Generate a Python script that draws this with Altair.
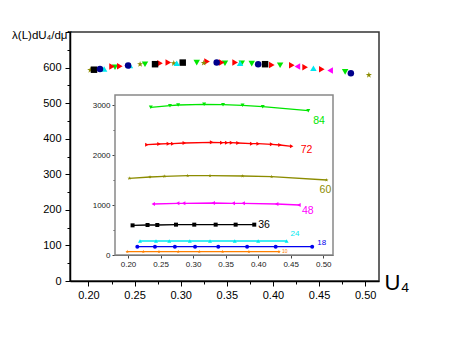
import altair as alt
import pandas as pd

# ---------------- data ----------------
X_DOMAIN = [0.18, 0.515]
MAIN_Y_DOMAIN = [0, 700]
INSET_Y_DOMAIN = [0, 3200]

SERIES = ["84", "72", "60", "48", "36", "24", "18", "10"]
INSET_COLORS = ["#00e600", "#ff0000", "#8c8c00", "#ff00ff", "#000000", "#00e8f0", "#0000f0", "#ff8000"]
MAIN_COLORS = ["#00e600", "#ff0000", "#8c8c00", "#ff00ff", "#000000", "#00e8f0", "#00008b", "#ff8000"]
STAR = "M0,-1L0.2245,-0.309L0.951,-0.309L0.363,0.118L0.588,0.809L0,0.382L-0.588,0.809L-0.363,0.118L-0.951,-0.309L-0.2245,-0.309Z"
SHAPES = ["triangle-down", "triangle-right", STAR, "triangle-left", "square", "triangle-up", "circle", STAR]

# main panel: lambda(L) dU4/dmu vs U4
M84_U = [0.2288, 0.2613, 0.3174, 0.348, 0.3662, 0.377, 0.4078, 0.4783]
M84_V = [601, 609.5, 614, 612.3, 612, 611, 606.7, 588]
M72_U = [0.2256, 0.234, 0.2776, 0.2866, 0.3286, 0.3445, 0.359, 0.3988, 0.4205, 0.4349, 0.453]
M72_V = [603, 604, 612, 614, 617, 614, 614, 607.5, 606.7, 601, 595.5]
M60_U = [0.202, 0.256, 0.2925, 0.325, 0.504]
M60_V = [593, 609.5, 612, 613, 579]
M48_U = [0.2418, 0.4265, 0.462]
M48_V = [605, 603, 591.6]
M36_U = [0.206, 0.2722, 0.3022, 0.3915]
M36_V = [594, 609.5, 614, 609.5]
M24_U = [0.217, 0.245, 0.2957, 0.3644, 0.4439]
M24_V = [596, 606, 612, 612, 598]
M18_U = [0.2125, 0.243, 0.339, 0.384, 0.4845]
M18_V = [596, 606, 614, 609.5, 584]

# inset: dU4/dmu vs U4
I84_U = [0.235, 0.2645, 0.277, 0.317, 0.346, 0.376, 0.407, 0.477]
I84_V = [2953, 2987, 3000, 3013, 3007, 2993, 2967, 2887]
I72_U = [0.229, 0.2476, 0.262, 0.2686, 0.2865, 0.3285, 0.344, 0.3516, 0.359, 0.369, 0.390, 0.400, 0.4207, 0.4335, 0.4515]
I72_V = [2207, 2220, 2227, 2227, 2240, 2253, 2247, 2247, 2247, 2240, 2227, 2227, 2213, 2200, 2173]
I60_U = [0.202, 0.2338, 0.2557, 0.2917, 0.326, 0.376, 0.4207, 0.5052]
I60_V = [1533, 1560, 1573, 1587, 1587, 1580, 1566, 1500]
I48_U = [0.2388, 0.2763, 0.2855, 0.331, 0.3617, 0.377, 0.4284, 0.4627]
I48_V = [1020, 1033, 1033, 1040, 1033, 1033, 1020, 1000]
I36_U = [0.207, 0.230, 0.245, 0.2737, 0.3018, 0.3347, 0.3654, 0.394]
I36_V = [593, 600, 600, 607, 607, 607, 607, 607]
I24_U = [0.2184, 0.243, 0.2634, 0.295, 0.326, 0.364, 0.400, 0.4437]
I24_V = [280, 280, 280, 280, 280, 280, 280, 280]
I18_U = [0.2143, 0.2414, 0.272, 0.303, 0.3387, 0.383, 0.4269, 0.483]
I18_V = [167, 167, 167, 167, 167, 167, 167, 167]
I10_U = [0.1989, 0.2235, 0.2476, 0.2772, 0.3095, 0.3454, 0.3858, 0.4319]
I10_V = [67, 67, 67, 67, 67, 67, 67, 67]

X_TICKS = [0.20, 0.225, 0.25, 0.275, 0.30, 0.325, 0.35, 0.375, 0.40, 0.425, 0.45, 0.475, 0.50]
MAIN_Y_TICKS = [0, 50, 100, 150, 200, 250, 300, 350, 400, 450, 500, 550, 600, 650, 700]
INSET_X_TICKS = [0.20, 0.25, 0.30, 0.35, 0.40, 0.45, 0.50]
INSET_Y_TICKS = [0, 500, 1000, 1500, 2000, 2500, 3000]

# label styling per inset series: (dx, dy, font size)
LABEL_STYLE = {"84": (5, 10, 10.5), "72": (9, 4, 10.5), "60": (-7, 10, 10.5), "48": (3, 6, 10.5),
               "36": (4, 0, 10.5), "24": (4, -7, 8), "18": (5, -4, 8), "10": (3, -1, 5)}

main_sets = {"84": (M84_U, M84_V), "72": (M72_U, M72_V), "60": (M60_U, M60_V), "48": (M48_U, M48_V),
             "36": (M36_U, M36_V), "24": (M24_U, M24_V), "18": (M18_U, M18_V)}
inset_sets = {"84": (I84_U, I84_V), "72": (I72_U, I72_V), "60": (I60_U, I60_V), "48": (I48_U, I48_V),
              "36": (I36_U, I36_V), "24": (I24_U, I24_V), "18": (I18_U, I18_V), "10": (I10_U, I10_V)}

main_df = pd.DataFrame([{"L": k, "U4": u, "v": v} for k, (us, vs) in main_sets.items() for u, v in zip(us, vs)])
inset_df = pd.DataFrame([{"L": k, "U4": u, "v": v} for k, (us, vs) in inset_sets.items() for u, v in zip(us, vs)])

FONT = "Liberation Sans"
W, H = 309, 249

# ---------------- main panel ----------------
main_x = alt.Scale(domain=X_DOMAIN, nice=False, zero=False)
main_y = alt.Scale(domain=MAIN_Y_DOMAIN, nice=False)
main_xaxis = alt.Axis(
    values=X_TICKS, labelExpr="round(datum.value*1000) % 50 == 0 ? format(datum.value, '.2f') : ''",
    tickSize={"condition": {"test": "round(datum.value*1000) % 50 == 0", "value": 5}, "value": 3},
    grid=False, domainColor="black", domainWidth=1.5, tickColor="black", labelFontSize=11,
    labelFont=FONT, labelColor="black", labelPadding=3, title="U₄", titleFont=FONT, titleFontSize=22,
    titleFontWeight="normal", titleX=W + 5, titleY=1, titleAlign="left", titleBaseline="middle",
    titleAnchor="start", titleAngle=0)
main_yaxis = alt.Axis(
    values=MAIN_Y_TICKS, labelExpr="datum.value % 100 == 0 && datum.value < 700 ? datum.value : ''",
    tickSize={"condition": {"test": "datum.value % 100 == 0", "value": 5}, "value": 3},
    grid=False, domainColor="black", domainWidth=1.5, tickColor="black", labelFontSize=11,
    labelFont=FONT, labelColor="black", labelPadding=4, title="λ(L)dU₄/dμ̃", titleFont=FONT,
    titleFontSize=11.5, titleFontWeight="normal", titleAngle=0, titleX=-3, titleY=3,
    titleAlign="right", titleBaseline="middle", titleAnchor="start", titleLimit=70)

main_pts = alt.Chart(main_df).mark_point(filled=True, size=42, opacity=1).encode(
    x=alt.X("U4:Q", scale=main_x, axis=main_xaxis),
    y=alt.Y("v:Q", scale=main_y, axis=main_yaxis),
    color=alt.Color("L:N", scale=alt.Scale(domain=SERIES, range=MAIN_COLORS), legend=None),
    shape=alt.Shape("L:N", scale=alt.Scale(domain=SERIES, range=SHAPES), legend=None),
)
main = main_pts

# ---------------- inset ----------------
inset_x = alt.Scale(domain=X_DOMAIN, range=[45, 263], nice=False, zero=False)
inset_y = alt.Scale(domain=INSET_Y_DOMAIN, range=[223, 63], nice=False)
inset_xaxis = alt.Axis(orient="bottom", offset=-26, values=INSET_X_TICKS, format=".2f", grid=False,
                       domainColor="#444", tickColor="#444", tickSize=3, labelFontSize=8, labelFont=FONT,
                       labelColor="#222", labelPadding=2, title=None)
inset_yaxis = alt.Axis(orient="left", offset=-45, values=INSET_Y_TICKS,
                       labelExpr="datum.value % 1000 == 0 ? datum.value : ''",
                       tickSize={"condition": {"test": "datum.value % 1000 == 0", "value": 3}, "value": 2},
                       grid=False, domainColor="#444", tickColor="#444", labelFontSize=8, labelFont=FONT,
                       labelColor="#222", labelPadding=2, title=None)

frame_df = pd.DataFrame({"x": [X_DOMAIN[0]], "x2": [X_DOMAIN[1]],
                         "y": [INSET_Y_DOMAIN[0]], "y2": [INSET_Y_DOMAIN[1]]})
frame = alt.Chart(frame_df).mark_rect(fill="white", stroke="#888", strokeWidth=1.5).encode(
    x=alt.X("x:Q", scale=inset_x, axis=inset_xaxis), x2="x2:Q",
    y=alt.Y("y:Q", scale=inset_y, axis=inset_yaxis), y2="y2:Q")

inset_color = alt.Color("L:N", scale=alt.Scale(domain=SERIES, range=INSET_COLORS), legend=None)
lines = alt.Chart(inset_df).mark_line(strokeWidth=1.3).encode(
    x=alt.X("U4:Q", scale=inset_x, axis=inset_xaxis),
    y=alt.Y("v:Q", scale=inset_y, axis=inset_yaxis),
    color=inset_color, detail="L:N")
ipts = alt.Chart(inset_df).mark_point(filled=True, size=16, opacity=1).encode(
    x=alt.X("U4:Q", scale=inset_x, axis=inset_xaxis),
    y=alt.Y("v:Q", scale=inset_y, axis=inset_yaxis),
    color=inset_color,
    shape=alt.Shape("L:N", scale=alt.Scale(domain=SERIES, range=SHAPES), legend=None))

labels = []
for k, col in zip(SERIES, INSET_COLORS):
    us, vs = inset_sets[k]
    dx, dy, fs = LABEL_STYLE[k]
    ldf = pd.DataFrame({"U4": [us[-1]], "v": [vs[-1]], "t": [k]})
    labels.append(alt.Chart(ldf).mark_text(align="left", baseline="middle", dx=dx, dy=dy, fontSize=fs,
                                           font=FONT, color=col).encode(
        x=alt.X("U4:Q", scale=inset_x, axis=inset_xaxis),
        y=alt.Y("v:Q", scale=inset_y, axis=inset_yaxis),
        text="t:N"))

inset = alt.layer(frame, lines, ipts, *labels)

chart = alt.layer(main, inset).resolve_scale(
    x="independent", y="independent", color="independent", shape="independent"
).properties(
    width=W, height=H, autosize=alt.AutoSizeParams(type="none"),
    padding={"left": 62, "top": 24, "right": 70, "bottom": 60},
).configure_view(stroke="#333", strokeWidth=1.5)

chart.save("out.html", embed_options={"renderer": "svg", "actions": False})
